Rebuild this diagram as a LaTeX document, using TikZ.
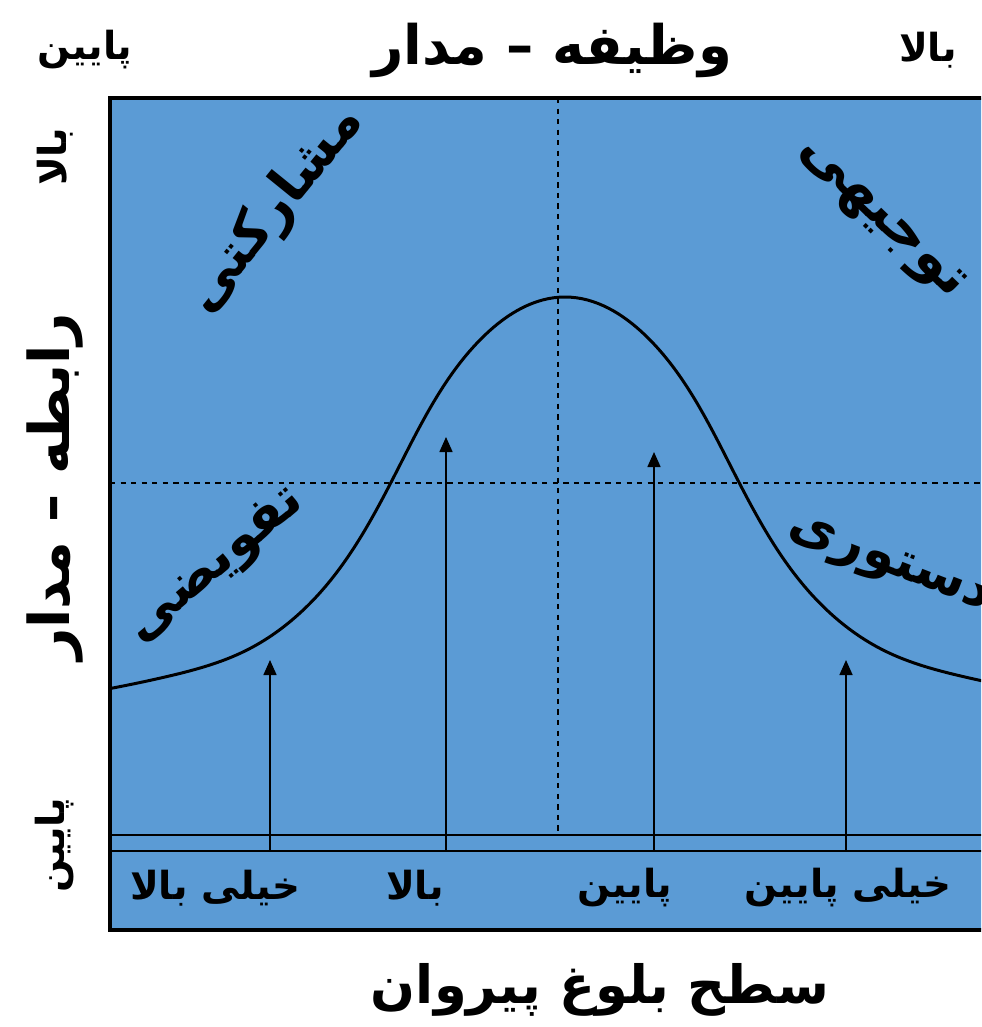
\documentclass[tikz,border=0pt]{standalone}
\usepackage{fontspec}
\usetikzlibrary{arrows.meta,hobby}
\newfontfamily\farsi[Script=Arabic]{DejaVu Sans Bold}
\TeXXeTstate=1
\definecolor{boxblue}{HTML}{5B9BD5}
\newcommand{\fsz}[1]{\fontsize{#1}{#1}\selectfont}

\begin{document}
\begin{tikzpicture}[x=0.02cm, y=-0.02cm,
    grid/.style={dashed, line width=0.6pt},
    band/.style={line width=1.1pt},
    maturity/.style={line width=0.9pt, -{Triangle[length=3mm,width=2.6mm]}},
    word/.style={inner sep=0pt, font=\farsi}]
    \clip (0,0) rectangle (981,1027);
    \coordinate (TL) at (110,98);
    \coordinate (BR) at (1010,930);
    \fill[boxblue] (TL) rectangle (BR);
    \draw[grid] (558,98) -- (558,835);
    \draw[grid] (110,483) -- (1010,483);
    \draw[band] (110,835) -- (1010,835);
    \draw[band] (110,851) -- (1010,851);
    % bell curve
    \begin{scope}
        \clip (TL) rectangle (BR);
        \draw[line width=1.7pt, use Hobby shortcut] (85,693) .. (165,677) .. (245,651) .. (325,587) .. (405,455) .. (485,335) .. (565,297) .. (645,335) .. (725,455) .. (805,587) .. (885,651) .. (965,677) .. (1045,693);
    \end{scope}
    \foreach \n/\x/\t in {a/270/660, b/446/437, c/654/452, d/846/660} {
        \coordinate (foot\n) at (\x,851);
        \coordinate (tip\n) at (\x,\t);
        \draw[maturity] (foot\n) -- (tip\n);
    }
    \draw[line width=2.8pt] (TL) rectangle (BR);
    % axis titles
    \node[word] (task) at (552,50) {\fsz{31}\beginR وظیفه – مدار\endR};
    \node[word] (lowtop) at (85,50) {\fsz{22}\beginR پایین\endR};
    \node[word] (hightop) at (928,50) {\fsz{22}\beginR بالا\endR};
    \node[word, rotate=90] (relation) at (55,487) {\fsz{32}\beginR رابطه – مدار\endR};
    \node[word, rotate=90] (highleft) at (55,157) {\fsz{22}\beginR بالا\endR};
    \node[word, rotate=90] (lowleft) at (55,845) {\fsz{22}\beginR پایین\endR};
    \node[word] (maturityaxis) at (600,990) {\fsz{30}\beginR سطح بلوغ پیروان\endR};
    % maturity levels
    \node[word] (m4) at (215,888) {\fsz{22}\beginR خیلی بالا\endR};
    \node[word] (m3) at (415,888) {\fsz{22}\beginR بالا\endR};
    \node[word] (m2) at (625,888) {\fsz{22}\beginR پایین\endR};
    \node[word] (m1) at (848,888) {\fsz{22}\beginR خیلی پایین\endR};
    % leadership styles
    \node[word, rotate=51] (participating) at (275,210) {\fsz{31}\beginR مشارکتی\endR};
    \node[word, rotate=-44] (selling) at (880,220) {\fsz{32}\beginR توجیهی\endR};
    \node[word, rotate=40] (delegating) at (217,566) {\fsz{30}\beginR تفویضی\endR};
    \node[word, rotate=-21] (telling) at (888,566) {\fsz{30}\beginR دستوری\endR};
\end{tikzpicture}
\end{document}
